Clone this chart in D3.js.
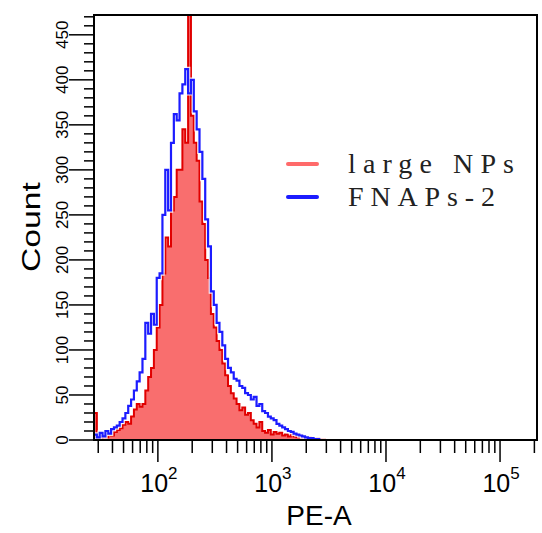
<!DOCTYPE html>
<html><head><meta charset="utf-8">
<script src="https://cdn.jsdelivr.net/npm/d3@7"></script>
<style>html,body{margin:0;padding:0;background:#fff;}</style>
</head><body>
<script>
// ---- data ----
const binLog = [1.440,1.465,1.490,1.515,1.540,1.565,1.590,1.615,1.640,1.665,1.690,1.715,1.740,1.765,1.790,1.815,1.840,1.865,1.890,1.915,1.940,1.965,1.990,2.015,2.040,2.065,2.090,2.115,2.140,2.165,2.190,2.215,2.240,2.265,2.290,2.315,2.340,2.365,2.390,2.415,2.440,2.465,2.490,2.515,2.540,2.565,2.590,2.615,2.640,2.665,2.690,2.715,2.740,2.765,2.790,2.815,2.840,2.865,2.890,2.915,2.940,2.965,2.990,3.015,3.040,3.065,3.090,3.115,3.140,3.165,3.190,3.215,3.240,3.265,3.290,3.315,3.340,3.365,3.390,3.415,3.440,3.465,3.490];
const largeNPs = [30,4,2,5,3,6,5,9,11,13,17,20,18,26,34,40,37,40,55,70,80,100,125,150,185,225,215,255,270,300,300,345,330,500,360,330,310,265,240,200,180,140,125,110,100,85,72,60,52,46,40,33,36,28,30,22,18,14,20,10,8,11,6,9,7,8,5,6,4,6,4,3,5,3,2,3,2,1,2,1,1,0];
const fnaps2 = [6,3,8,4,10,7,12,14,16,20,24,30,38,45,55,65,75,90,130,118,140,128,180,185,250,300,255,330,362,355,385,395,412,385,400,365,345,320,290,245,215,165,150,130,120,105,90,80,75,68,66,60,58,52,50,45,48,38,40,32,30,26,24,22,18,16,14,12,10,9,7,6,5,4,3,2,2,1,1,0,0,0];
const seriesNames = ["large NPs", "FNAPs-2"];
const yTickLabels = [0,50,100,150,200,250,300,350,400,450];
const xDecades = [2,3,4,5];
const xDomain = [27.54, 210860];
const yDomain = [0, 472];

// ---- layout ----
const W = 542, H = 533;
const L = 94, R = 537, T = 15, B = 440;
const svg = d3.select("body").append("svg").attr("width", W).attr("height", H)
  .style("font-family", "'Liberation Sans', Arial, sans-serif");
svg.append("rect").attr("width", W).attr("height", H).attr("fill", "#fff");

const x = d3.scaleLog().domain(xDomain).range([L, R]);
const y = d3.scaleLinear().domain(yDomain).range([B, T]);

svg.append("clipPath").attr("id", "clip").append("rect")
  .attr("x", L).attr("y", T).attr("width", R - L).attr("height", B - T);

function pts(vals) {
  const p = vals.map((v, i) => [Math.pow(10, binLog[i]), v]);
  p.push([Math.pow(10, binLog[vals.length]), vals[vals.length - 1]]);
  return p;
}
const g = svg.append("g").attr("clip-path", "url(#clip)");
const redPts = pts(largeNPs), bluePts = pts(fnaps2);
const area = d3.area().curve(d3.curveStepAfter).x(d => x(d[0])).y0(y(0)).y1(d => y(d[1]));
const line = d3.line().curve(d3.curveStepAfter).x(d => x(d[0])).y(d => y(d[1]));

g.append("path").attr("d", area(redPts)).attr("fill", "#f96e6e");
g.append("path").attr("d", line(redPts)).attr("fill", "none").attr("stroke", "#e00000").attr("stroke-width", 2);
g.append("path").attr("d", line(bluePts)).attr("fill", "none").attr("stroke", "#fff").attr("stroke-width", 4.5).attr("stroke-opacity", 0.85);
g.append("path").attr("d", line(bluePts)).attr("fill", "none").attr("stroke", "#1c1cff").attr("stroke-width", 2.2);

// frame
svg.append("rect").attr("x", L).attr("y", T).attr("width", R - L).attr("height", B - T)
  .attr("fill", "none").attr("stroke", "#000").attr("stroke-width", 2);

// y ticks
const yMinor = d3.range(0, 471, 10);
svg.append("g").selectAll("line").data(yMinor).join("line")
  .attr("x1", L).attr("x2", d => (d % 50 === 0) ? L - 25 : L - 10)
  .attr("y1", d => y(d)).attr("y2", d => y(d))
  .attr("stroke", "#000").attr("stroke-width", 1.5);
svg.append("g").selectAll("text").data(yTickLabels).join("text")
  .attr("transform", d => `translate(68,${y(d)}) rotate(-90)`)
  .attr("text-anchor", "middle").attr("font-size", 17)
  .style("font-family", "'Liberation Sans Narrow', 'Liberation Sans', Arial, sans-serif")
  .text(d => d);

// x ticks
const xMinor = [];
for (let e = 1; e <= 5; e++) for (let m = 2; m <= 9; m++) {
  const v = m * Math.pow(10, e);
  if (v >= xDomain[0] && v <= xDomain[1]) xMinor.push(v);
}
svg.append("g").selectAll("line").data(xMinor).join("line")
  .attr("x1", d => x(d)).attr("x2", d => x(d)).attr("y1", B).attr("y2", B + 13)
  .attr("stroke", "#000").attr("stroke-width", 1.5);
svg.append("g").selectAll("line").data(xDecades).join("line")
  .attr("x1", d => x(Math.pow(10, d))).attr("x2", d => x(Math.pow(10, d))).attr("y1", B).attr("y2", B + 22)
  .attr("stroke", "#000").attr("stroke-width", 1.5);
const xt = svg.append("g").selectAll("text").data(xDecades).join("text")
  .attr("x", d => x(Math.pow(10, d)) + 1).attr("y", 492)
  .attr("text-anchor", "middle").attr("font-size", 25);
xt.append("tspan").text("10");
xt.append("tspan").attr("font-size", 17).attr("dy", -13).text(d => d);

// axis titles
svg.append("text").attr("x", 319).attr("y", 525).attr("text-anchor", "middle")
  .attr("font-size", 28).text("PE-A");
svg.append("text").attr("transform", "translate(40,227) rotate(-90)")
  .attr("text-anchor", "middle").attr("font-size", 25)
  .attr("textLength", 90).attr("lengthAdjust", "spacingAndGlyphs").text("Count");

// legend
const legColors = ["#ff6a6a", "#1c1cff"];
const legY = [164, 197];
const lg = svg.append("g").selectAll("g").data(seriesNames).join("g");
lg.append("line").attr("x1", 288).attr("x2", 317)
  .attr("y1", (d, i) => legY[i]).attr("y2", (d, i) => legY[i])
  .attr("stroke", (d, i) => legColors[i]).attr("stroke-width", 4).attr("stroke-linecap", "round");
lg.append("text").attr("x", 348).attr("y", (d, i) => legY[i] + 9)
  .attr("font-size", 28)
  .style("font-family", "'Liberation Serif', 'Times New Roman', serif")
  .attr("textLength", (d, i) => i === 0 ? 166 : 147).attr("lengthAdjust", "spacing")
  .attr("fill", "#222").text(d => d);
</script>
</body></html>
